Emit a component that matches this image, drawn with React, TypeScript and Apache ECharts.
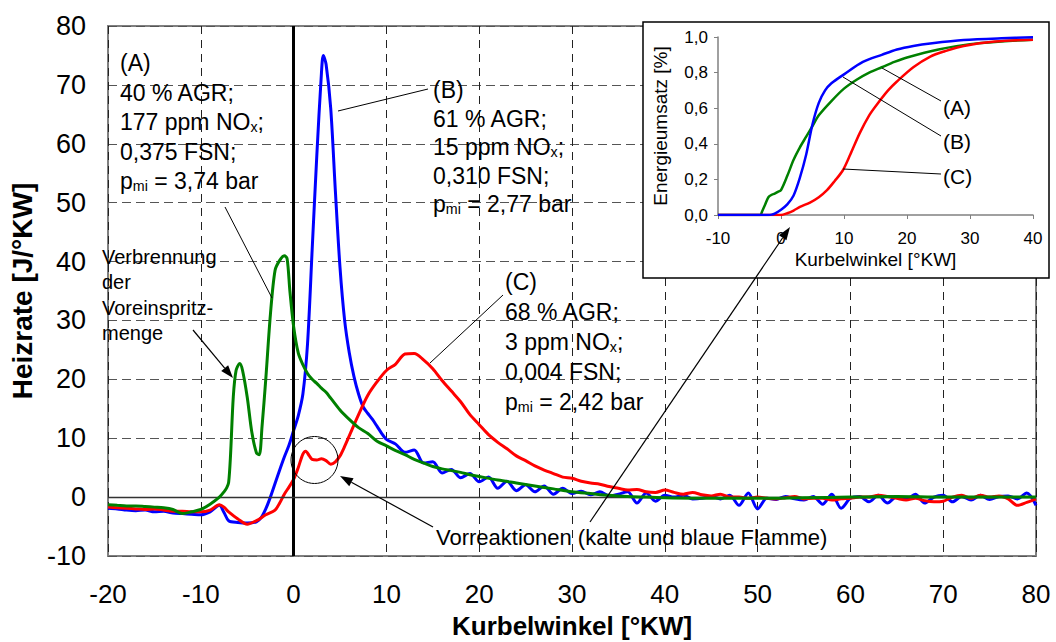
import React, { useEffect, useRef } from "react";
import * as echarts from "echarts";

const FONT = "'Liberation Sans', Arial, Helvetica, sans-serif";

// ---------- main chart: Heizrate [J/°KW] over Kurbelwinkel [°KW] ----------
// (A) 40 % AGR (green)
const angleA = [-20, -19, -18, -17, -16, -15, -14, -13, -12, -11, -10, -9, -8,
  -7.5, -7.2, -7, -6.8, -6.5, -6.2, -5.8, -5.5, -5, -4.5, -4, -3.7, -3.4, -3, -2.5, -2, -1.5, -1, -0.7, -0.4,
  0, 0.5, 1, 1.5, 2, 2.5, 3, 3.5, 4,
  5, 6, 7, 8, 9, 10, 11, 12, 13, 14, 15, 16, 17, 18, 19, 20,
  22, 24, 26, 28, 30, 32, 34, 36, 38, 40,
  45, 50, 55, 60, 65, 70, 75, 80];
const heatA = [-1.3, -1.4, -1.5, -1.5, -1.6, -1.7, -1.8, -2.1, -2.8, -2.5, -2.1, -1.2, 0.0,
  0.9, 1.6, 2.5, 7, 17, 21.5, 22.7, 21.5, 17, 11, 7.5, 7.2, 12, 20, 31, 38.5, 40.2, 41, 40.5, 35,
  29, 24.5, 22.5, 21, 20, 19.3, 18.5, 17.8, 16.8,
  14.8, 13.2, 11.8, 10.8, 9.5, 8.7, 7.9, 7.2, 6.4, 5.8, 5.2, 4.8, 4.5, 4.2, 3.8, 3.5,
  2.9, 2.4, 1.9, 1.4, 0.9, 0.6, 0.3, 0.1, 0.0, -0.1,
  -0.2, -0.2, -0.1, 0.0, 0.1, 0.0, 0.0, 0.0];

// (B) 61 % AGR (blue)
const angleB = [-20, -19, -18, -17, -16, -15, -14, -13, -12, -11, -10, -9, -8,
  -7.5, -7, -6, -5, -4, -3.5, -3, -2.5, -2, -1.5,
  -1, -0.5, 0, 0.5, 1, 1.5, 2, 2.5, 3, 3.2,
  3.5, 4, 4.5, 5, 5.5, 6, 6.5, 7, 7.5, 8,
  8.5, 9, 9.5, 10,
  11, 12, 13, 14, 15, 16, 17, 18, 19, 20,
  21, 22, 23, 24, 25, 26, 27, 28, 29, 30,
  31, 32, 33, 34, 35, 36, 37, 38, 39, 40,
  41, 42, 43, 44, 45, 46, 47, 48, 49, 50,
  51, 52, 53, 54, 55, 56, 57, 58, 59, 60,
  61, 62, 63, 64, 65, 66, 67, 68, 69, 70,
  71, 72, 73, 74, 75, 76, 77, 78, 79, 80];
const heatB = [-1.9, -2.0, -2.2, -2.3, -2.2, -2.5, -2.4, -2.7, -2.8, -2.9, -3.0, -2.5, -1.4,
  -2.6, -4.0, -4.3, -4.4, -4.2, -3.5, -2.0, 0.0, 2.3, 4.6,
  6.8, 8.8, 11.3, 13.8, 17.5, 26, 42, 58, 72, 75,
  73.5, 66, 52, 39, 30, 24.5, 20.5, 17.5, 15.3, 14.2,
  13.2, 12.0, 10.8, 9.8,
  9.0, 7.6, 8.0, 5.8, 6.0, 4.1, 4.7, 3.3, 4.0, 2.6,
  3.4, 1.5, 2.7, 1.1, 2.1, 0.9, 1.9, 0.5, 1.5, 0.6,
  1.0, 0.4, 0.9, 0.2, 0.5, 0.9, -1.0, 0.7, -0.7, 0.3,
  0.0, 0.3, -0.3, -0.2, 0.1, -0.3, 0.3, -1.4, 0.7, -2.0,
  -0.2, -0.4, 0.1, -0.3, -0.5, 0.1, -1.2, 0.5, -1.9, -0.2,
  0.1, -0.8, 0.3, -1.0, 0.1, -0.4, 0.5, -1.0, 0.0, 0.3,
  -0.8, 0.1, -0.5, 0.3, -0.4, 0.1, 0.2, -0.3, 0.7, -1.4];

// (C) 68 % AGR (red)
const angleC = [-20, -19, -18, -17, -16, -15, -14, -13, -12, -11, -10, -9, -8,
  -7.5, -7, -6, -5, -4, -3, -2, -1.5, -1, -0.5,
  0, 0.5, 1, 1.3, 1.7, 2, 2.5, 3, 3.5, 4,
  4.5, 5, 5.5, 6,
  7, 8, 9, 10, 11, 12, 13, 14, 15, 16,
  17, 18, 19, 20, 21, 22, 23, 24, 25, 26,
  27, 28, 29, 30, 31, 32, 33, 34, 35, 36,
  37, 38, 39, 40, 41, 42, 43, 44, 45, 46,
  47, 48, 49, 50, 51, 52, 53, 54, 55, 56,
  57, 58, 59, 60, 61, 62, 63, 64, 65, 66,
  67, 68, 69, 70, 71, 72, 73, 74, 75, 76,
  77, 78, 79, 80];
const heatC = [-1.7, -1.8, -1.9, -2.0, -2.1, -2.0, -2.2, -2.4, -2.4, -2.5, -2.5, -2.2, -1.3,
  -1.7, -2.5, -3.7, -4.6, -4.0, -3.0, -2.2, -1.0, 0.5, 1.7,
  3.0, 5.0, 7.3, 7.8, 7.0, 6.4, 6.3, 6.5, 6.2, 5.6,
  6.0, 7.0, 8.6, 10.4,
  14.0, 17.3, 19.6, 21.5, 22.6, 24.3, 24.4, 23.3, 21.8, 19.8,
  18.0, 16.2, 14.0, 12.3, 10.6, 9.3, 8.2, 7.0, 6.2, 5.3,
  4.6, 4.0, 3.4, 3.2, 2.7, 2.4, 2.2, 1.8, 1.5, 1.2,
  1.3, 0.9, 0.8, 1.2, 0.8, 0.5, 0.8, 0.4, 0.2, 0.5,
  0.0, 0.0, -0.2, 0.0, -0.2, -0.3, -0.1, 0.1, -0.3, -0.2,
  -0.2, -0.5, -0.3, -0.2, 0.0, 0.0, 0.3, 0.1, -0.2, -0.5,
  -0.2, -0.6, -0.8, -0.7, 0.0, 0.3, -0.2, 0.3, 0.0, 0.2,
  -0.3, -1.4, -0.9, -0.3];

// ---------- inset: Energieumsatz [%] over Kurbelwinkel [°KW] ----------
const insetAngleA = [-10, -3.3, -3, -2.5, -2, -1.5, -1, -0.5, 0, 1, 2, 3, 4, 5, 6, 8, 10, 12, 14, 16, 18, 20, 25, 30, 35, 40];
const insetFracA = [0, 0, 0.02, 0.06, 0.1, 0.113, 0.12, 0.13, 0.14, 0.22, 0.31, 0.38, 0.44, 0.5, 0.56, 0.64, 0.71, 0.76, 0.8, 0.83, 0.86, 0.885, 0.93, 0.96, 0.975, 0.985];
const insetAngleB = [-10, -2, -1.5, -1, 0, 1, 2, 3, 4, 5, 6, 7, 8, 10, 13, 16, 18.4, 21, 24, 29, 35, 40];
const insetFracB = [0, 0, 0.002, 0.008, 0.03, 0.06, 0.11, 0.21, 0.34, 0.51, 0.63, 0.7, 0.74, 0.79, 0.86, 0.9, 0.93, 0.95, 0.965, 0.983, 0.993, 0.998];
const insetAngleC = [-10, 0, 1, 2, 3, 4.6, 6, 7.3, 8.5, 9.8, 11, 12.5, 14, 15.2, 17, 18.4, 21, 23.7, 26, 29, 34, 40];
const insetFracC = [0, 0, 0.01, 0.025, 0.045, 0.07, 0.1, 0.14, 0.19, 0.25, 0.34, 0.46, 0.56, 0.62, 0.7, 0.75, 0.83, 0.89, 0.92, 0.95, 0.975, 0.985];
// dash-dot reference levels and where they end
const refLevels = [0.94, 0.5, 0.07];
const refEnds = [42, 16.8, 12.5];

const pairs = (xs: number[], ys: number[]) => xs.map((x, i) => [x, ys[i]]);

const GREEN = "#008000";
const BLUE = "#0000ff";
const RED = "#ff0000";

const txt = (x: number, y: number, text: string, size: number, extra: any = {}) => ({
  type: "text",
  x,
  y,
  z: 30,
  style: {
    text,
    fill: "#000",
    fontSize: size,
    fontFamily: FONT,
    align: "left",
    verticalAlign: "middle",
    ...extra,
  },
});

const subRich = (size: number) => ({
  s: { fontSize: size, fontFamily: FONT, fill: "#000", padding: [Math.round(size * 0.6), 0, 0, 0] },
});

const seg = (x1: number, y1: number, x2: number, y2: number, w = 1) => ({
  type: "line",
  z: 30,
  shape: { x1, y1, x2, y2 },
  style: { stroke: "#000", lineWidth: w },
});

const arrow = (x1: number, y1: number, x2: number, y2: number) => {
  const dx = x2 - x1;
  const dy = y2 - y1;
  const L = Math.hypot(dx, dy);
  const ux = dx / L;
  const uy = dy / L;
  const len = 13;
  const w = 4.5;
  const bx = x2 - ux * len;
  const by = y2 - uy * len;
  return [
    seg(x1, y1, bx, by, 1.2),
    {
      type: "polygon",
      z: 30,
      shape: { points: [[x2, y2], [bx - uy * w, by + ux * w], [bx + uy * w, by - ux * w]] },
      style: { fill: "#000" },
    },
  ];
};

const annoBlock = (x: number, y0: number, step: number, lines: string[], size: number) =>
  lines.map((l, i) => txt(x, y0 + i * step, l, size, { rich: subRich(size * 0.62) }));

export default function App() {
  const ref = useRef<HTMLDivElement>(null);

  useEffect(() => {
    if (!ref.current) return;
    const chart = echarts.init(ref.current, undefined, { renderer: "svg" });

    const mainLine = (name: string, data: number[][], color: string, z: number, extra: any = {}) => ({
      name,
      type: "line",
      xAxisIndex: 0,
      yAxisIndex: 0,
      data,
      showSymbol: false,
      symbol: "none",
      smooth: 0.3,
      z,
      lineStyle: { color, width: 3 },
      itemStyle: { color },
      ...extra,
    });

    const insetLine = (name: string, data: number[][], color: string, extra: any = {}) => ({
      name,
      type: "line",
      xAxisIndex: 1,
      yAxisIndex: 1,
      data,
      showSymbol: false,
      symbol: "none",
      smooth: 0.3,
      z: 20,
      lineStyle: { color, width: 2.5 },
      itemStyle: { color },
      ...extra,
    });

    const option: any = {
      animation: false,
      backgroundColor: "#fff",
      textStyle: { fontFamily: FONT },
      grid: [
        {
          left: 108, top: 26, width: 928, height: 530,
          outerBoundsMode: "none", containLabel: false,
          show: true, borderColor: "#808080", borderWidth: 2, backgroundColor: "transparent",
        },
        { left: 718, top: 37, width: 315, height: 178, outerBoundsMode: "none", containLabel: false, show: false },
      ],
      xAxis: [
        {
          gridIndex: 0,
          type: "value",
          min: -20,
          max: 80,
          interval: 10,
          name: "Kurbelwinkel [°KW]",
          nameLocation: "middle",
          nameGap: 57,
          nameMoveOverlap: false,
          nameTextStyle: { fontSize: 26, fontWeight: "bold", color: "#000", fontFamily: FONT },
          axisLine: { show: false },
          axisTick: { show: true, inside: true, length: 6, lineStyle: { color: "#222" } },
          axisLabel: { fontSize: 26, color: "#000", margin: 25, fontFamily: FONT },
          splitLine: { show: true, lineStyle: { color: "#222", width: 1, type: [8, 6] } },
        },
        {
          gridIndex: 1,
          type: "value",
          min: -10,
          max: 40,
          interval: 10,
          z: 20,
          name: "Kurbelwinkel [°KW]",
          nameLocation: "middle",
          nameGap: 35,
          nameTextStyle: { fontSize: 19, color: "#000", fontFamily: FONT },
          axisLine: { show: true, onZero: false, lineStyle: { color: "#808080", width: 1.5 } },
          axisTick: { show: true, length: 4, lineStyle: { color: "#808080" } },
          axisLabel: { fontSize: 17, color: "#000", margin: 15, fontFamily: FONT },
          splitLine: { show: false },
        },
      ],
      yAxis: [
        {
          gridIndex: 0,
          type: "value",
          min: -10,
          max: 80,
          interval: 10,
          name: "Heizrate [J/°KW]",
          nameLocation: "middle",
          nameGap: 69,
          nameTextStyle: { fontSize: 28, fontWeight: "bold", color: "#000", fontFamily: FONT },
          axisLine: { show: false },
          axisTick: { show: true, inside: true, length: 5, lineStyle: { color: "#808080" } },
          axisLabel: { fontSize: 27, color: "#000", margin: 22, fontFamily: FONT },
          splitLine: { show: true, lineStyle: { color: "#555", width: 1, type: [9, 5] } },
        },
        {
          gridIndex: 1,
          type: "value",
          min: 0,
          max: 1,
          interval: 0.2,
          z: 20,
          name: "Energieumsatz [%]",
          nameLocation: "middle",
          nameGap: 48,
          nameTextStyle: { fontSize: 19, color: "#000", fontFamily: FONT },
          axisLine: { show: true, onZero: false, lineStyle: { color: "#808080", width: 1.5 } },
          axisTick: { show: true, length: 4, lineStyle: { color: "#808080" } },
          axisLabel: {
            fontSize: 17,
            color: "#000",
            margin: 10,
            fontFamily: FONT,
            formatter: (v: number) => v.toFixed(1).replace(".", ","),
          },
          splitLine: { show: false },
        },
      ],
      series: [
        mainLine("(B)", pairs(angleB, heatB), BLUE, 3, {
          markLine: {
            silent: true,
            symbol: ["none", "none"],
            label: { show: false },
            data: [
              { xAxis: 0, lineStyle: { color: "#000", width: 3, type: "solid" } },
              { yAxis: 0, lineStyle: { color: "#333", width: 1.3, type: "solid" } },
            ],
          },
        }),
        mainLine("(C)", pairs(angleC, heatC), RED, 4),
        mainLine("(A)", pairs(angleA, heatA), GREEN, 5),
        insetLine("(A) Umsatz", pairs(insetAngleA, insetFracA), GREEN, {
          markLine: {
            silent: true,
            symbol: ["none", "none"],
            label: { show: false },
            lineStyle: { color: "#000", width: 1, type: [7, 3, 2, 3] },
            data: refLevels.map((lv, i) => [
              { coord: [-10, lv] },
              { coord: [refEnds[i], lv] },
            ]),
          },
        }),
        insetLine("(C) Umsatz", pairs(insetAngleC, insetFracC), RED),
        insetLine("(B) Umsatz", pairs(insetAngleB, insetFracB), BLUE),
      ],
      graphic: [
        // inset frame
        {
          type: "rect",
          z: 10,
          shape: { x: 643, y: 22, width: 406, height: 256 },
          style: { fill: "#fff", stroke: "#000", lineWidth: 1.5 },
        },
        // (A)
        ...annoBlock(120, 63, 29.5, ["(A)", "40 % AGR;", "177 ppm NO{s|x};", "0,375 FSN;", "p{s|mi} = 3,74 bar"], 23),
        seg(225, 207, 272, 298),
        // (B)
        ...annoBlock(433, 90, 28.5, ["(B)", "61 % AGR;", "15 ppm NO{s|x};", "0,310 FSN;", "p{s|mi} = 2,77 bar"], 23),
        seg(338, 111, 428, 89),
        // (C)
        ...annoBlock(505, 282, 30, ["(C)", "68 % AGR;", "3 ppm NO{s|x};", "0,004 FSN;", "p{s|mi} = 2,42 bar"], 23),
        seg(430, 363, 503, 295),
        // Voreinspritzung
        txt(102, 257, "Verbrennung", 20),
        txt(102, 282, "der", 20),
        txt(102, 308, "Voreinspritz-", 20),
        txt(102, 333, "menge", 20),
        ...arrow(193, 330, 233, 378),
        // Vorreaktionen
        {
          type: "circle",
          z: 30,
          shape: { cx: 314.5, cy: 460, r: 23.5 },
          style: { fill: "none", stroke: "#000", lineWidth: 1 },
        },
        txt(436, 537, "Vorreaktionen (kalte und blaue Flamme)", 22),
        ...arrow(433, 527, 340, 476),
        ...arrow(590, 522, 790, 227),
        // inset labels
        txt(943, 107, "(A)", 21),
        txt(943, 141, "(B)", 21),
        txt(943, 176, "(C)", 21),
        seg(882, 68, 941, 101),
        seg(843, 77, 941, 136),
        seg(843, 169, 941, 174),
      ],
    };

    chart.setOption(option);
    return () => chart.dispose();
  }, []);

  return (
    <div
      ref={ref}
      style={{ position: "fixed", left: 0, top: 0, width: 1056, height: 642, background: "#fff" }}
    />
  );
}
